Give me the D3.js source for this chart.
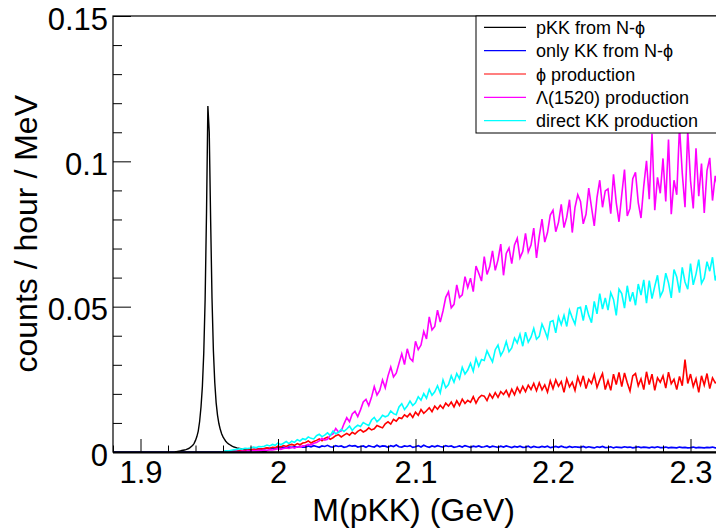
<!DOCTYPE html>
<html>
<head>
<meta charset="utf-8">
<script src="https://cdn.jsdelivr.net/npm/d3@7"></script>
<style>
  html, body { margin: 0; padding: 0; background: #fff; }
  svg { display: block; font-family: "Liberation Sans", Arial, Helvetica, sans-serif; }
</style>
</head>
<body>
<svg id="chart" width="716" height="531"></svg>
<script>
// histogram range (GeV)
const histLow = 1.88;
const histHigh = 2.32;

// pKK from N-phi: 1 MeV bins from peakStart
const peakStart = 1.925;
const peakBin = 0.001;
const pkkFromNphi = [
  0, 0.0001, 0.0002, 0.0003, 0.0004, 0.0005, 0.0006, 0.0007, 0.0008, 0.0010,
  0.0012, 0.0015, 0.0019, 0.0023, 0.0030, 0.0040, 0.0053, 0.0072, 0.0105, 0.0155,
  0.0225, 0.0340, 0.0525, 0.0820, 0.1190, 0.1100, 0.0800, 0.0530, 0.0350, 0.0240,
  0.0170, 0.0127, 0.0098, 0.0078, 0.0063, 0.0052, 0.0044, 0.0037, 0.0032, 0.0028,
  0.0025, 0.0022, 0.0019, 0.0017, 0.0016, 0.0014, 0.0013, 0.0012, 0.0011, 0.0010,
  0.0009, 0.0009, 0.0008, 0.0008, 0.0007, 0.0007, 0.0006, 0.0006, 0.0005, 0.0005,
  0.0004, 0.0004, 0.0003, 0.0003, 0.0002, 0.0002, 0.0001, 0
];

// the other four: 2 MeV bins from bandStart, one row per 10 MeV
const bandStart = 1.96;
const bandBin = 0.002;

const onlyKKFromNphi = [
  0, 0, 0.0001, 0.0001, 0.0002,
  0.0002, 0.0003, 0.0004, 0.0005, 0.0006,
  0.0007, 0.0008, 0.0009, 0.0010, 0.0011,
  0.0011, 0.0013, 0.0012, 0.0014, 0.0013,
  0.0015, 0.0014, 0.0016, 0.0015, 0.0017,
  0.0016, 0.0018, 0.0017, 0.0019, 0.0017,
  0.0017, 0.0021, 0.0018, 0.0022, 0.0019,
  0.0016, 0.0021, 0.0019, 0.0023, 0.0018,
  0.0017, 0.0022, 0.0019, 0.0021, 0.0016,
  0.0018, 0.0023, 0.0020, 0.0022, 0.0017,
  0.0019, 0.0021, 0.0016, 0.0022, 0.0019,
  0.0017, 0.0023, 0.0018, 0.0021, 0.0020,
  0.0016, 0.0022, 0.0019, 0.0024, 0.0018,
  0.0017, 0.0021, 0.0019, 0.0022, 0.0016,
  0.0018, 0.0022, 0.0017, 0.0023, 0.0019,
  0.0016, 0.0021, 0.0018, 0.0022, 0.0019,
  0.0017, 0.0022, 0.0019, 0.0021, 0.0016,
  0.0018, 0.0021, 0.0017, 0.0022, 0.0019,
  0.0016, 0.0020, 0.0018, 0.0021, 0.0017,
  0.0018, 0.0021, 0.0016, 0.0020, 0.0018,
  0.0016, 0.0020, 0.0017, 0.0021, 0.0018,
  0.0015, 0.0019, 0.0017, 0.0020, 0.0016,
  0.0017, 0.0020, 0.0015, 0.0019, 0.0017,
  0.0016, 0.0019, 0.0017, 0.0020, 0.0015,
  0.0017, 0.0019, 0.0016, 0.0020, 0.0017,
  0.0015, 0.0019, 0.0016, 0.0018, 0.0017,
  0.0016, 0.0019, 0.0015, 0.0018, 0.0016,
  0.0014, 0.0018, 0.0016, 0.0019, 0.0015,
  0.0016, 0.0018, 0.0014, 0.0017, 0.0016,
  0.0015, 0.0018, 0.0016, 0.0017, 0.0014,
  0.0016, 0.0018, 0.0015, 0.0017, 0.0016,
  0.0014, 0.0017, 0.0015, 0.0018, 0.0015,
  0.0015, 0.0017, 0.0014, 0.0016, 0.0015,
  0.0014, 0.0017, 0.0015, 0.0016, 0.0014,
  0.0015, 0.0017, 0.0014, 0.0016, 0.0015,
  0.0014, 0.0016, 0.0015, 0.0017, 0.0014,
  0.0015
];

const phiProduction = [
  0.0001, 0.0002, 0.0001, 0.0003, 0.0002,
  0.0003, 0.0005, 0.0004, 0.0006, 0.0007,
  0.0007, 0.0009, 0.0008, 0.0011, 0.0010,
  0.0012, 0.0014, 0.0013, 0.0016, 0.0015,
  0.0020, 0.0017, 0.0022, 0.0019, 0.0024,
  0.0026, 0.0023, 0.0029, 0.0025, 0.0031,
  0.0033, 0.0038, 0.0031, 0.0036, 0.0040,
  0.0045, 0.0039, 0.0047, 0.0051, 0.0044,
  0.0049, 0.0056, 0.0060, 0.0052, 0.0058,
  0.0064, 0.0058, 0.0068, 0.0062, 0.0071,
  0.0077, 0.0069, 0.0074, 0.0083, 0.0076,
  0.0080, 0.0091, 0.0087, 0.0083, 0.0097,
  0.0104, 0.0096, 0.0112, 0.0106, 0.0118,
  0.0115, 0.0128, 0.0121, 0.0132, 0.0119,
  0.0137, 0.0126, 0.0146, 0.0133, 0.0142,
  0.0152, 0.0139, 0.0158, 0.0147, 0.0161,
  0.0150, 0.0168, 0.0158, 0.0172, 0.0155,
  0.0176, 0.0160, 0.0182, 0.0167, 0.0178,
  0.0171, 0.0190, 0.0168, 0.0186, 0.0195,
  0.0192, 0.0177, 0.0200, 0.0185, 0.0204,
  0.0188, 0.0208, 0.0198, 0.0212, 0.0191,
  0.0216, 0.0197, 0.0222, 0.0204, 0.0226,
  0.0208, 0.0230, 0.0215, 0.0236, 0.0211,
  0.0238, 0.0214, 0.0231, 0.0206, 0.0245,
  0.0218, 0.0248, 0.0226, 0.0242, 0.0205,
  0.0252, 0.0224, 0.0240, 0.0212, 0.0258,
  0.0230, 0.0262, 0.0218, 0.0250, 0.0236,
  0.0266, 0.0222, 0.0248, 0.0270, 0.0215,
  0.0245, 0.0212, 0.0268, 0.0232, 0.0274,
  0.0225, 0.0272, 0.0238, 0.0210, 0.0262,
  0.0270, 0.0228, 0.0252, 0.0215, 0.0276,
  0.0232, 0.0268, 0.0212, 0.0255, 0.0240,
  0.0262, 0.0220, 0.0275, 0.0235, 0.0250,
  0.0215, 0.0260, 0.0228, 0.0318, 0.0236,
  0.0268, 0.0225, 0.0252, 0.0205, 0.0262,
  0.0230, 0.0270, 0.0218, 0.0255, 0.0238,
  0.0240
];

const lambdaProduction = [
  0, 0, 0, 0.0001, 0.0001,
  0.0002, 0.0001, 0.0003, 0.0002, 0.0004,
  0.0003, 0.0005, 0.0004, 0.0006, 0.0005,
  0.0007, 0.0005, 0.0008, 0.0007, 0.0009,
  0.0011, 0.0009, 0.0012, 0.0014, 0.0012,
  0.0016, 0.0013, 0.0018, 0.0017, 0.0021,
  0.0022, 0.0026, 0.0024, 0.0030, 0.0033,
  0.0038, 0.0047, 0.0041, 0.0044, 0.0058,
  0.0062, 0.0081, 0.0069, 0.0073, 0.0097,
  0.0118, 0.0104, 0.0131, 0.0140, 0.0122,
  0.0145, 0.0172, 0.0181, 0.0160, 0.0188,
  0.0225, 0.0196, 0.0212, 0.0248, 0.0221,
  0.0262, 0.0292, 0.0258, 0.0271, 0.0305,
  0.0338, 0.0301, 0.0355, 0.0322, 0.0312,
  0.0381, 0.0352, 0.0368, 0.0415, 0.0389,
  0.0465, 0.0420, 0.0432, 0.0488, 0.0447,
  0.0485, 0.0532, 0.0551, 0.0496, 0.0508,
  0.0575, 0.0532, 0.0541, 0.0603, 0.0566,
  0.0598, 0.0552, 0.0640, 0.0615, 0.0588,
  0.0672, 0.0611, 0.0638, 0.0692, 0.0625,
  0.0661, 0.0715, 0.0608, 0.0683, 0.0702,
  0.0648, 0.0712, 0.0735, 0.0668, 0.0690,
  0.0752, 0.0688, 0.0712, 0.0770, 0.0668,
  0.0742, 0.0801, 0.0722, 0.0755, 0.0815,
  0.0832, 0.0758, 0.0790, 0.0852, 0.0772,
  0.0808, 0.0868, 0.0755, 0.0842, 0.0885,
  0.0862, 0.0785, 0.0818, 0.0908, 0.0842,
  0.0778, 0.0875, 0.0935, 0.0842, 0.0898,
  0.0905, 0.0820, 0.0955, 0.0858, 0.0792,
  0.0885, 0.0972, 0.0812, 0.0838, 0.0940,
  0.0962, 0.0858, 0.0805, 0.0915, 0.1002,
  0.0870, 0.1095, 0.0832, 0.0945, 0.0890,
  0.1010, 0.0862, 0.1075, 0.0818, 0.0935,
  0.0885, 0.1120, 0.0960, 0.0842, 0.1105,
  0.0935, 0.0838, 0.1045, 0.0880, 0.0992,
  0.0822, 0.0968, 0.1012, 0.0865, 0.0950,
  0.0905
];

const directKK = [
  0.0002, 0.0004, 0.0003, 0.0006, 0.0008,
  0.0009, 0.0011, 0.0010, 0.0013, 0.0012,
  0.0014, 0.0017, 0.0015, 0.0019, 0.0018,
  0.0020, 0.0024, 0.0021, 0.0026, 0.0023,
  0.0031, 0.0025, 0.0030, 0.0036, 0.0029,
  0.0037, 0.0033, 0.0042, 0.0038, 0.0046,
  0.0043, 0.0052, 0.0047, 0.0045, 0.0056,
  0.0061, 0.0053, 0.0058, 0.0066, 0.0057,
  0.0072, 0.0063, 0.0068, 0.0078, 0.0071,
  0.0079, 0.0089, 0.0074, 0.0085, 0.0092,
  0.0088, 0.0101, 0.0096, 0.0091, 0.0110,
  0.0119, 0.0104, 0.0113, 0.0126, 0.0121,
  0.0125, 0.0141, 0.0132, 0.0128, 0.0155,
  0.0166, 0.0146, 0.0158, 0.0175, 0.0160,
  0.0169, 0.0190, 0.0178, 0.0201, 0.0185,
  0.0215, 0.0195, 0.0207, 0.0228, 0.0203,
  0.0248, 0.0221, 0.0232, 0.0262, 0.0240,
  0.0270, 0.0252, 0.0291, 0.0268, 0.0282,
  0.0305, 0.0278, 0.0322, 0.0295, 0.0318,
  0.0315, 0.0348, 0.0328, 0.0310, 0.0352,
  0.0368, 0.0332, 0.0349, 0.0380, 0.0345,
  0.0358, 0.0392, 0.0375, 0.0405, 0.0364,
  0.0412, 0.0378, 0.0395, 0.0425, 0.0388,
  0.0398, 0.0440, 0.0418, 0.0392, 0.0448,
  0.0452, 0.0410, 0.0465, 0.0438, 0.0470,
  0.0432, 0.0488, 0.0462, 0.0440, 0.0495,
  0.0498, 0.0452, 0.0505, 0.0470, 0.0445,
  0.0518, 0.0475, 0.0545, 0.0492, 0.0530,
  0.0488, 0.0548, 0.0525, 0.0470, 0.0560,
  0.0545, 0.0495, 0.0572, 0.0518, 0.0550,
  0.0505, 0.0578, 0.0540, 0.0592, 0.0512,
  0.0590, 0.0528, 0.0570, 0.0608, 0.0535,
  0.0555, 0.0615, 0.0582, 0.0530, 0.0628,
  0.0602, 0.0548, 0.0635, 0.0585, 0.0560,
  0.0648, 0.0575, 0.0612, 0.0662, 0.0580,
  0.0598, 0.0655, 0.0622, 0.0670, 0.0590,
  0.0625
];

const xTicks = [1.9, 2.0, 2.1, 2.2, 2.3];
const xTickLabels = ["1.9", "2", "2.1", "2.2", "2.3"];
const yTicks = [0, 0.05, 0.1, 0.15];
const yTickLabels = ["0", "0.05", "0.1", "0.15"];

const legendLabels = [
  "pKK from N-\u03d5",
  "only KK from N-\u03d5",
  "\u03d5 production",
  "\u039b(1520) production",
  "direct KK production",
];
const legendColors = ["#000000", "#0000ff", "#ff0000", "#ff00ff", "#00ffff"];

// ---- layout
const frame = { left: 113, top: 16, right: 718, bottom: 452 };

const svg = d3.select("#chart");

const x = d3.scaleLinear().domain([histLow, histHigh]).range([frame.left, frame.right]);
const y = d3.scaleLinear().domain([0, 0.15]).range([frame.bottom, frame.top]);

svg.append("defs")
  .append("clipPath")
  .attr("id", "plot-clip")
  .append("rect")
  .attr("x", frame.left)
  .attr("y", frame.top)
  .attr("width", frame.right - frame.left)
  .attr("height", frame.bottom - frame.top);

function histPoints(values, start, bin, fromLow) {
  const pts = [];
  if (fromLow) pts.push([histLow, 0]);
  values.forEach((v, i) => pts.push([start + i * bin, v]));
  return pts;
}

const line = d3.line()
  .x((d) => x(d[0]))
  .y((d) => y(d[1]));

const series = [
  { values: onlyKKFromNphi, start: bandStart, bin: bandBin, color: legendColors[1], width: 1.7, fromLow: true },
  { values: pkkFromNphi, start: peakStart, bin: peakBin, color: legendColors[0], width: 1.4, fromLow: false },
  { values: phiProduction, start: bandStart, bin: bandBin, color: legendColors[2], width: 1.6, fromLow: false },
  { values: lambdaProduction, start: bandStart, bin: bandBin, color: legendColors[3], width: 1.6, fromLow: false },
  { values: directKK, start: bandStart, bin: bandBin, color: legendColors[4], width: 1.6, fromLow: false },
];

const plot = svg.append("g").attr("clip-path", "url(#plot-clip)");
series.forEach((s) => {
  plot.append("path")
    .attr("d", line(histPoints(s.values, s.start, s.bin, s.fromLow)))
    .attr("fill", "none")
    .attr("stroke", s.color)
    .attr("stroke-width", s.width)
    .attr("stroke-linejoin", "miter");
});

// ---- axes (ticks point inward, ROOT style)
const xMinor = d3.range(histLow, histHigh + 1e-9, 0.02).filter((v) => !xTicks.some((t) => Math.abs(t - v) < 1e-6));
const yMinor = d3.range(0, 0.15 + 1e-9, 0.01).filter((v) => !yTicks.some((t) => Math.abs(t - v) < 1e-6));

svg.append("g")
  .attr("transform", `translate(0,${frame.bottom})`)
  .call(d3.axisBottom(x).tickValues(xTicks).tickSizeInner(-13).tickSizeOuter(0).tickPadding(9)
    .tickFormat((d, i) => xTickLabels[i]));
svg.append("g")
  .attr("transform", `translate(0,${frame.bottom})`)
  .call(d3.axisBottom(x).tickValues(xMinor).tickSizeInner(-6.5).tickSizeOuter(0).tickFormat(""));

const yAxis = svg.append("g")
  .attr("transform", `translate(${frame.left},0)`)
  .call(d3.axisLeft(y).tickValues(yTicks).tickSizeInner(-18).tickSizeOuter(0).tickPadding(5)
    .tickFormat((d, i) => yTickLabels[i]));
svg.append("g")
  .attr("transform", `translate(${frame.left},0)`)
  .call(d3.axisLeft(y).tickValues(yMinor).tickSizeInner(-9).tickSizeOuter(0).tickFormat(""));

svg.selectAll(".domain").remove();
svg.selectAll(".tick line").attr("stroke", "#000").attr("stroke-width", 1);
svg.selectAll(".tick text")
  .attr("fill", "#000")
  .style("font-size", "31px")
  .style("font-family", '"Liberation Sans", Arial, sans-serif');
yAxis.selectAll(".tick text").attr("dy", "0.42em");

// frame
svg.append("rect")
  .attr("x", frame.left)
  .attr("y", frame.top)
  .attr("width", frame.right - frame.left)
  .attr("height", frame.bottom - frame.top)
  .attr("fill", "none")
  .attr("stroke", "#000")
  .attr("stroke-width", 1.2);
svg.append("line")
  .attr("x1", frame.left)
  .attr("x2", frame.right)
  .attr("y1", frame.bottom + 0.5)
  .attr("y2", frame.bottom + 0.5)
  .attr("stroke", "#000")
  .attr("stroke-width", 2);

// axis titles
svg.append("text")
  .attr("x", 515)
  .attr("y", 521)
  .attr("text-anchor", "end")
  .style("font-size", "32px")
  .text("M(pKK) (GeV)");

svg.append("text")
  .attr("transform", "translate(37,95) rotate(-90)")
  .attr("text-anchor", "end")
  .style("font-size", "32px")
  .text("counts / hour / MeV");

// ---- legend
const legend = svg.append("g");
legend.append("rect")
  .attr("x", 476)
  .attr("y", frame.top)
  .attr("width", 280)
  .attr("height", 117)
  .attr("fill", "#fff")
  .attr("stroke", "#000")
  .attr("stroke-width", 1);

legendLabels.forEach((label, i) => {
  const cy = 27.3 + i * 23.35;
  legend.append("line")
    .attr("x1", 484)
    .attr("x2", 526)
    .attr("y1", cy)
    .attr("y2", cy)
    .attr("stroke", legendColors[i])
    .attr("stroke-width", 1.2);
  legend.append("text")
    .attr("x", 536)
    .attr("y", cy + 6.5)
    .style("font-size", "18px")
    .text(label);
});
</script>
</body>
</html>
